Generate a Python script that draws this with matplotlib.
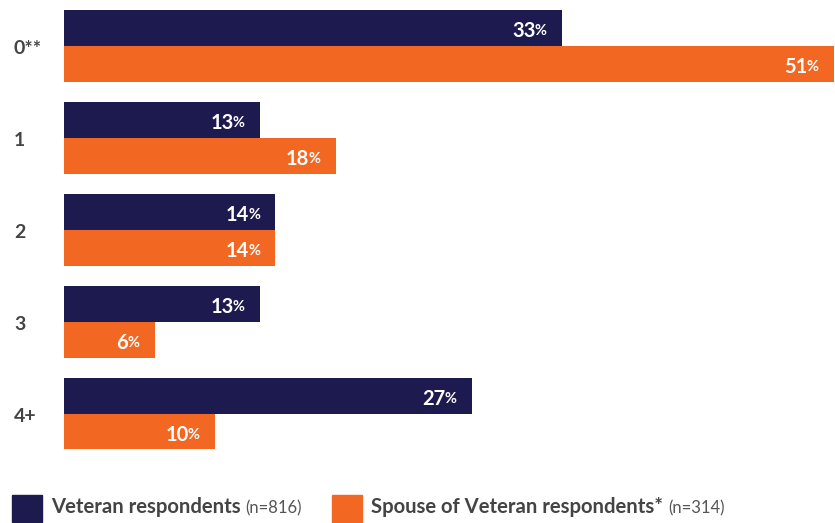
import matplotlib.pyplot as plt
import numpy as np
from matplotlib.patches import Rectangle

plt.rcParams['font.family'] = ['Lato', 'DejaVu Sans']

categories = ['0**', '1', '2', '3', '4+']
veteran = [33, 13, 14, 13, 27]
spouse = [51, 18, 14, 6, 10]
legend_labels = [('Veteran respondents', '(n=816)'),
                 ('Spouse of Veteran respondents*', '(n=314)')]

navy = '#1c1a4f'
orange = '#f26722'
grey = '#444444'

W, H = 835, 523
fig = plt.figure(figsize=(W / 100, H / 100), dpi=100)
# axes spans the bar area in pixel terms
ax = fig.add_axes([64 / W, (H - 449) / H, 770 / W, 439 / H])

y = np.arange(len(categories))
bh = 36 / 92
ax.barh(y - bh / 2, veteran, height=bh, color=navy)
ax.barh(y + bh / 2, spouse, height=bh, color=orange)
ax.set_xlim(0, 51)
ax.set_ylim(y[-1] + (449 - 46 - 92 * 4) / 92, -36 / 92)
ax.axis('off')


def value_label(x, yy):
    pct = ax.annotate('%', xy=(x, yy), xytext=(-11, 0), textcoords='offset points',
                      ha='right', va='center', color='white', fontsize=10.5,
                      fontweight='bold')
    ax.annotate(f'{x:g}', xy=(0, 0.5), xycoords=pct, xytext=(0.6, 0),
                textcoords='offset points', ha='right', va='center',
                color='white', fontsize=14.5, fontweight='bold')


for i in y:
    value_label(veteran[i], i - bh / 2 + 0.03)
    value_label(spouse[i], i + bh / 2 + 0.03)
    ax.text(-50 / 770 * 51, i + 0.03, categories[i], ha='left', va='center',
            fontsize=14, fontweight='bold', color=grey)

# legend drawn by hand along the bottom
for (bold, small), col, x0 in zip(legend_labels, [navy, orange], [12, 332]):
    fig.patches.append(Rectangle((x0 / W, 1 / H), 30 / W, 27 / H,
                                 transform=fig.transFigure, color=col))
    t = fig.text((x0 + 39) / W, (H - 507) / H, bold, ha='left',
                 va='center', fontsize=14.6, fontweight='bold', color=grey)
    fig.canvas.draw()
    bb = t.get_window_extent()
    fig.text((bb.x1 + 5) / W, (H - 508) / H, small, ha='left', va='center',
             fontsize=12, color='#555555')

fig.savefig('out.png', dpi=100)
